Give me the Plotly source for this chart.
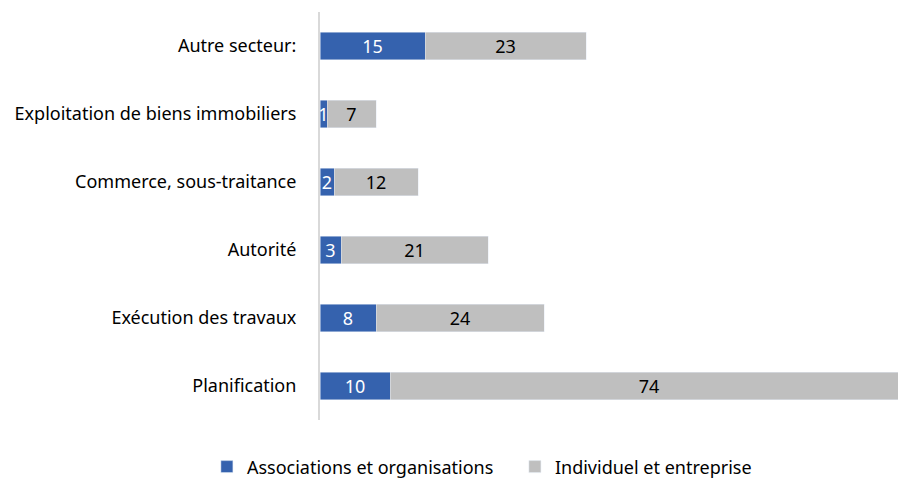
import plotly.graph_objects as go

# data (top to bottom as in the chart, reversed for plotly's y axis)
categories = ["Autre secteur:", "Exploitation de biens immobiliers", "Commerce, sous-traitance",
              "Autorité", "Exécution des travaux", "Planification"]
assoc = [15, 1, 2, 3, 8, 10]
indiv = [23, 7, 12, 21, 24, 74]
series_names = ["Associations et organisations", "Individuel et entreprise"]

blue = "#3562AE"
grey = "#BFBFBF"
font_family = "Noto Sans"
fsize = 18

cats = categories[::-1]

fig = go.Figure()

fig.add_trace(go.Bar(
    y=cats, x=assoc[::-1], orientation="h", name=series_names[0],
    marker=dict(color=blue),
    text=[str(v) for v in assoc[::-1]],
    textposition="inside", insidetextanchor="middle", textangle=0,
    constraintext="none",
    insidetextfont=dict(color="white", size=fsize, family=font_family),
))
fig.add_trace(go.Bar(
    y=cats, x=indiv[::-1], orientation="h", name=series_names[1],
    marker=dict(color=grey),
    text=[str(v) for v in indiv[::-1]],
    textposition="inside", insidetextanchor="middle", textangle=0,
    constraintext="none",
    insidetextfont=dict(color="#000000", size=fsize, family=font_family),
))

# page body has an 8px margin, so the figure is drawn 8px smaller and offset
fig.update_layout(
    barmode="stack",
    bargap=0.6,
    width=898, height=471,
    margin=dict(t=4, b=59, l=312, r=0, autoexpand=False),
    paper_bgcolor="white", plot_bgcolor="white",
    font=dict(family=font_family, size=fsize, color="#000000"),
    xaxis=dict(range=[0, 83.7], showgrid=False, showticklabels=False,
               zeroline=False, showline=False),
    yaxis=dict(showgrid=False, showline=True, linecolor="#D9D9D9", linewidth=2,
               ticks="", ticklabelstandoff=18, automargin=False,
               tickfont=dict(size=fsize, color="#000000", family=font_family)),
    legend=dict(orientation="h", x=-0.193, xanchor="left", y=-0.115, yanchor="middle",
                font=dict(size=fsize, color="#000000", family=font_family),
                itemwidth=30, entrywidth=263, traceorder="normal"),
    showlegend=True,
)

fig.write_html("out.html")
